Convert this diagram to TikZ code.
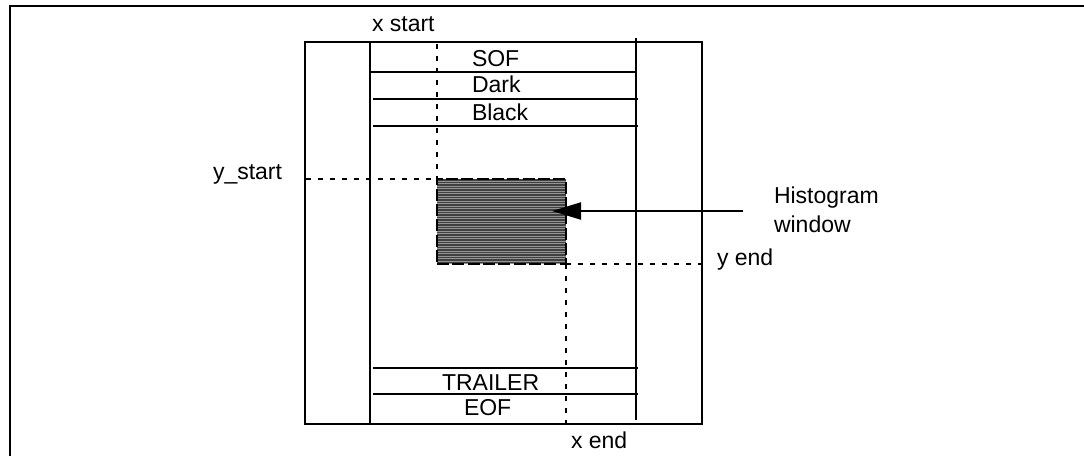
\documentclass[tikz,border=0pt]{standalone}
\usepackage{fontspec}
\setmainfont{Liberation Sans}
\usetikzlibrary{arrows.meta}
\begin{document}
\begin{tikzpicture}[x=0.75pt,y=-0.75pt,
  lbl/.style={inner sep=0pt,outer sep=0pt,font=\fontsize{17.25}{20}\selectfont,anchor=base west},
  thick line/.style={line width=1.6pt},
  frame line/.style={line width=1.9pt},
  dashline/.style={line width=1.6pt,dash pattern=on 3.75pt off 5.25pt},
  winbox/.style={draw,line width=1.6pt,dash pattern=on 9pt off 2.5pt,inner sep=0pt,outer sep=0pt,
    minimum width=96.75pt,minimum height=63.75pt},
  pointer/.style={line width=1.6pt,-{Triangle[length=21.75pt,width=12.75pt]}}
 ]
\clip (0,0) rectangle (1084,455);
% page frame (cropped)
\coordinate (fbl) at (10,470);
\coordinate (ftl) at (10,6);
\coordinate (ftr) at (1100,6);
\draw[frame line] (fbl) -- (ftl) -- (ftr);

% image frame
\coordinate (otl) at (305,42);
\coordinate (obr) at (702,424);
\draw[thick line] (otl) rectangle (obr);
\coordinate (ilt) at (370,42);
\coordinate (ilb) at (370,424);
\draw[thick line] (ilt) -- (ilb);
\coordinate (irt) at (636,38);
\coordinate (irb) at (636,420);
\draw[thick line] (irt) -- (irb);

% rows
\coordinate (r1a) at (370,72);  \coordinate (r1b) at (636,72);
\coordinate (r2a) at (373,99);  \coordinate (r2b) at (638,99);
\coordinate (r3a) at (373,126); \coordinate (r3b) at (638,126);
\coordinate (r4a) at (373,368); \coordinate (r4b) at (638,368);
\coordinate (r5a) at (373,394); \coordinate (r5b) at (638,394);
\draw[thick line] (r1a) -- (r1b);
\draw[thick line] (r2a) -- (r2b);
\draw[thick line] (r3a) -- (r3b);
\draw[thick line] (r4a) -- (r4b);
\draw[thick line] (r5a) -- (r5b);

\node[lbl] (sof) at (472,66.5) {SOF};
\node[lbl] (dark) at (472,92.5) {Dark};
\node[lbl] (black) at (472,120) {Black};
\node[lbl] (trailer) at (442,390) {TRAILER};
\node[lbl] (eof) at (464,415) {EOF};

% histogram window
\fill[black!42] (437,179) rectangle (566,264);
\foreach \yy in {180,182.5,...,263} \draw[black!75,line width=0.9pt] (437,\yy) -- (566,\yy);
\node[winbox] (win) at (501.5,221.5) {};

% dashed guides
\coordinate (xs0) at (437,44);
\draw[dashline] (xs0) -- (win.north west);
\coordinate (ys0) at (306,179);
\draw[dashline] (ys0) -- (win.north west);
\coordinate (ye1) at (702,264);
\draw[dashline] (win.south east) -- (ye1);
\coordinate (xe1) at (566,424);
\draw[dashline] (win.south east) -- (xe1);

\node[lbl] (xstart) at (372,31) {x start};
\node[lbl] (ystart) at (213,179) {y\_start};
\node[lbl] (yend) at (717,265) {y end};
\node[lbl] (xend) at (571,448) {x end};
\node[lbl] (hist) at (774,203) {Histogram};
\node[lbl] (hwin) at (774,232) {window};

% pointer
\coordinate (ptail) at (743,211);
\coordinate (ptip) at (552,211);
\draw[pointer] (ptail) -- (ptip);
\end{tikzpicture}
\end{document}
